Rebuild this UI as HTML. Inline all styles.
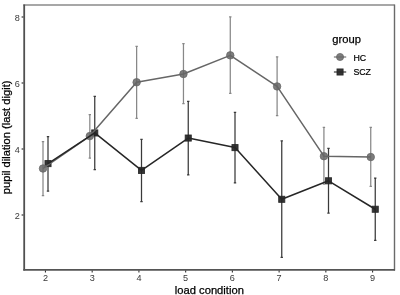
<!DOCTYPE html>
<html><head><meta charset="utf-8"><style>
html,body{margin:0;padding:0;background:#fff;}
svg{display:block;}
#w{filter:blur(0.35px);width:400px;height:295px;}
text{font-family:"Liberation Sans",sans-serif;}
.tk{font-size:9.1px;fill:#383838;}
.ti{font-size:11.2px;fill:#000;stroke:#000;stroke-width:0.25px;}
.lt{font-size:8.8px;fill:#000;stroke:#000;stroke-width:0.2px;}
</style></head><body>
<div id="w"><svg width="400" height="295" viewBox="0 0 400 295">
<rect width="400" height="295" fill="#fff"/>
<line x1="23.3" y1="5.0" x2="394.5" y2="5.0" stroke="#505050" stroke-width="1.2"/>
<line x1="394.5" y1="4.4" x2="394.5" y2="270.6" stroke="#6a6a6a" stroke-width="1.4"/>
<line x1="24.2" y1="4.4" x2="24.2" y2="270.6" stroke="#505050" stroke-width="1.8"/>
<line x1="23.3" y1="269.95" x2="395.0" y2="269.95" stroke="#555" stroke-width="1.7"/>
<line x1="45.45" y1="270.5" x2="45.45" y2="272.6" stroke="#333" stroke-width="1.1"/>
<text x="45.45" y="280.6" class="tk" text-anchor="middle">2</text>
<line x1="92.18" y1="270.5" x2="92.18" y2="272.6" stroke="#333" stroke-width="1.1"/>
<text x="92.18" y="280.6" class="tk" text-anchor="middle">3</text>
<line x1="138.92" y1="270.5" x2="138.92" y2="272.6" stroke="#333" stroke-width="1.1"/>
<text x="138.92" y="280.6" class="tk" text-anchor="middle">4</text>
<line x1="185.65" y1="270.5" x2="185.65" y2="272.6" stroke="#333" stroke-width="1.1"/>
<text x="185.65" y="280.6" class="tk" text-anchor="middle">5</text>
<line x1="232.38" y1="270.5" x2="232.38" y2="272.6" stroke="#333" stroke-width="1.1"/>
<text x="232.38" y="280.6" class="tk" text-anchor="middle">6</text>
<line x1="279.12" y1="270.5" x2="279.12" y2="272.6" stroke="#333" stroke-width="1.1"/>
<text x="279.12" y="280.6" class="tk" text-anchor="middle">7</text>
<line x1="325.85" y1="270.5" x2="325.85" y2="272.6" stroke="#333" stroke-width="1.1"/>
<text x="325.85" y="280.6" class="tk" text-anchor="middle">8</text>
<line x1="372.58" y1="270.5" x2="372.58" y2="272.6" stroke="#333" stroke-width="1.1"/>
<text x="372.58" y="280.6" class="tk" text-anchor="middle">9</text>
<line x1="21.6" y1="215.00" x2="23.4" y2="215.00" stroke="#333" stroke-width="1.2"/>
<text x="19.8" y="218.60" class="tk" text-anchor="end">2</text>
<line x1="21.6" y1="149.00" x2="23.4" y2="149.00" stroke="#333" stroke-width="1.2"/>
<text x="19.8" y="152.60" class="tk" text-anchor="end">4</text>
<line x1="21.6" y1="83.00" x2="23.4" y2="83.00" stroke="#333" stroke-width="1.2"/>
<text x="19.8" y="86.60" class="tk" text-anchor="end">6</text>
<line x1="21.6" y1="17.00" x2="23.4" y2="17.00" stroke="#333" stroke-width="1.2"/>
<text x="19.8" y="20.60" class="tk" text-anchor="end">8</text>
<path d="M41.80,141.50H44.20M43.00,141.50V195.70M41.80,195.70H44.20M88.62,114.50H91.02M89.82,114.50V158.00M88.62,158.00H91.02M135.44,46.30H137.84M136.64,46.30V118.40M135.44,118.40H137.84M182.26,43.70H184.66M183.46,43.70V103.50M182.26,103.50H184.66M229.08,16.95H231.48M230.28,16.95V93.30M229.08,93.30H231.48M275.90,56.90H278.30M277.10,56.90V115.70M275.90,115.70H278.30M322.72,127.40H325.12M323.92,127.40V184.20M322.72,184.20H325.12M369.54,127.40H371.94M370.74,127.40V186.40M369.54,186.40H371.94" fill="none" stroke="#888888" stroke-width="1.25"/>
<path d="M46.80,136.60H49.20M48.00,136.60V191.00M46.80,191.00H49.20M93.55,96.40H95.95M94.75,96.40V169.50M93.55,169.50H95.95M140.30,139.40H142.70M141.50,139.40V201.50M140.30,201.50H142.70M187.05,101.40H189.45M188.25,101.40V174.80M187.05,174.80H189.45M233.80,112.30H236.20M235.00,112.30V182.85M233.80,182.85H236.20M280.55,140.85H282.95M281.75,140.85V257.40M280.55,257.40H282.95M327.30,148.25H329.70M328.50,148.25V213.20M327.30,213.20H329.70M374.05,178.00H376.45M375.25,178.00V240.40M374.05,240.40H376.45" fill="none" stroke="#3a3a3a" stroke-width="1.25"/>
<rect x="44.95" y="160.55" width="6.10" height="6.10" fill="#262626" fill-opacity="0.93" stroke="#262626" stroke-opacity="0.93" stroke-width="0.9"/>
<rect x="91.70" y="129.90" width="6.10" height="6.10" fill="#262626" fill-opacity="0.93" stroke="#262626" stroke-opacity="0.93" stroke-width="0.9"/>
<rect x="138.45" y="167.35" width="6.10" height="6.10" fill="#262626" fill-opacity="0.93" stroke="#262626" stroke-opacity="0.93" stroke-width="0.9"/>
<rect x="185.20" y="135.00" width="6.10" height="6.10" fill="#262626" fill-opacity="0.93" stroke="#262626" stroke-opacity="0.93" stroke-width="0.9"/>
<rect x="231.95" y="144.55" width="6.10" height="6.10" fill="#262626" fill-opacity="0.93" stroke="#262626" stroke-opacity="0.93" stroke-width="0.9"/>
<rect x="278.70" y="196.25" width="6.10" height="6.10" fill="#262626" fill-opacity="0.93" stroke="#262626" stroke-opacity="0.93" stroke-width="0.9"/>
<rect x="325.45" y="177.75" width="6.10" height="6.10" fill="#262626" fill-opacity="0.93" stroke="#262626" stroke-opacity="0.93" stroke-width="0.9"/>
<rect x="372.20" y="206.20" width="6.10" height="6.10" fill="#262626" fill-opacity="0.93" stroke="#262626" stroke-opacity="0.93" stroke-width="0.9"/>
<circle cx="43.00" cy="168.50" r="3.75" fill="#666666" fill-opacity="0.85" stroke="#666666" stroke-opacity="0.85" stroke-width="0.9"/>
<circle cx="89.82" cy="136.10" r="3.75" fill="#666666" fill-opacity="0.85" stroke="#666666" stroke-opacity="0.85" stroke-width="0.9"/>
<circle cx="136.64" cy="82.25" r="3.75" fill="#666666" fill-opacity="0.85" stroke="#666666" stroke-opacity="0.85" stroke-width="0.9"/>
<circle cx="183.46" cy="74.00" r="3.75" fill="#666666" fill-opacity="0.85" stroke="#666666" stroke-opacity="0.85" stroke-width="0.9"/>
<circle cx="230.28" cy="55.35" r="3.75" fill="#666666" fill-opacity="0.85" stroke="#666666" stroke-opacity="0.85" stroke-width="0.9"/>
<circle cx="277.10" cy="86.40" r="3.75" fill="#666666" fill-opacity="0.85" stroke="#666666" stroke-opacity="0.85" stroke-width="0.9"/>
<circle cx="323.92" cy="156.20" r="3.75" fill="#666666" fill-opacity="0.85" stroke="#666666" stroke-opacity="0.85" stroke-width="0.9"/>
<circle cx="370.74" cy="157.05" r="3.75" fill="#666666" fill-opacity="0.85" stroke="#666666" stroke-opacity="0.85" stroke-width="0.9"/>
<polyline points="43.00,168.50 89.82,136.10 136.64,82.25 183.46,74.00 230.28,55.35 277.10,86.40 323.92,156.20 370.74,157.05" fill="none" stroke="#666666" stroke-width="1.5" stroke-linejoin="round"/>
<polyline points="48.00,163.60 94.75,132.95 141.50,170.40 188.25,138.05 235.00,147.60 281.75,199.30 328.50,180.80 375.25,209.25" fill="none" stroke="#262626" stroke-width="1.5" stroke-linejoin="round"/>
<rect x="328" y="28" width="48" height="52" fill="#fff"/>
<text x="332.3" y="42.7" class="ti">group</text>
<line x1="333.9" y1="57.0" x2="346.2" y2="57.0" stroke="#666666" stroke-width="1.1"/>
<circle cx="340.05" cy="57.0" r="3.55" fill="#666666" fill-opacity="0.85" stroke="#666666" stroke-opacity="0.85" stroke-width="0.9"/>
<line x1="333.9" y1="72.0" x2="346.2" y2="72.0" stroke="#262626" stroke-width="1.1"/>
<rect x="337.00" y="68.95" width="6.10" height="6.10" fill="#262626" fill-opacity="0.93" stroke="#262626" stroke-opacity="0.93" stroke-width="0.9"/>
<text x="353.4" y="60.7" class="lt">HC</text>
<text x="353.4" y="75.1" class="lt">SCZ</text>
<text x="209.35" y="293.5" class="ti" text-anchor="middle">load condition</text>
<text transform="translate(10.3,137.35) rotate(-90)" class="ti" text-anchor="middle">pupil dilation (last digit)</text>
</svg></div>
</body></html>
